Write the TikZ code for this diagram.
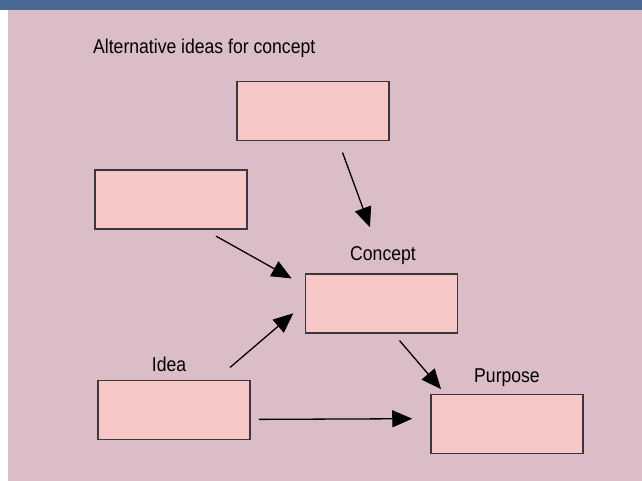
\documentclass[tikz,border=0pt]{standalone}
\usepackage{fontspec}
\setmainfont[FakeStretch=0.88]{Liberation Sans}
\usetikzlibrary{arrows.meta}
\definecolor{barblue}{RGB}{74, 106, 150}
\definecolor{bgpink}{RGB}{219, 189, 199}
\definecolor{boxpink}{RGB}{248, 200, 200}
\definecolor{boxline}{RGB}{60, 56, 58}

\begin{document}
\begin{tikzpicture}[x=1bp, y=-1bp,
    box/.style={draw=boxline, line width=1.5bp, fill=boxpink, minimum width=152bp, minimum height=59bp, inner sep=0pt},
    lbl/.style={inner sep=0pt, anchor=base, font=\fontsize{20bp}{24bp}\selectfont},
    arr/.style={line width=1.3bp, -{Triangle[length=20bp, width=17bp]}}]
    \useasboundingbox (0,0) rectangle (642,481);
    \fill[bgpink] (8,10) rectangle (642,481);
    \fill[barblue] (0,0) rectangle (642,10);
    % boxes
    \node[box] (alt) at (313,111) {};
    \node[box] (other) at (171,199.5) {};
    \node[box] (concept) at (381.5,303.5) {};
    \node[box] (idea) at (174,410) {};
    \node[box] (purpose) at (507,424) {};
    % labels
    \node[lbl, anchor=base west] (altlbl) at (93,53.3) {Alternative ideas for concept};
    \node[lbl] (conceptlbl) at (383,260.7) {Concept};
    \node[lbl] (idealbl) at (169,371.7) {Idea};
    \node[lbl] (purposelbl) at (507,382.7) {Purpose};
    % arrows
    \draw[arr, shorten <=12bp, shorten >=49bp] (alt.-50) -- (concept.80);
    \draw[arr, shorten <=13bp, shorten >=15bp] (other.-42) -- (concept.167);
    \draw[arr, shorten <=19bp, shorten >=15bp] (idea.36) -- (concept.west);
    \draw[arr, shorten <=9bp, shorten >=6bp] (concept.-68) -- (purpose.154);
    \draw[arr, shorten <=8bp, shorten >=18bp] (idea.-7) -- (purpose.176);
\end{tikzpicture}
\end{document}
